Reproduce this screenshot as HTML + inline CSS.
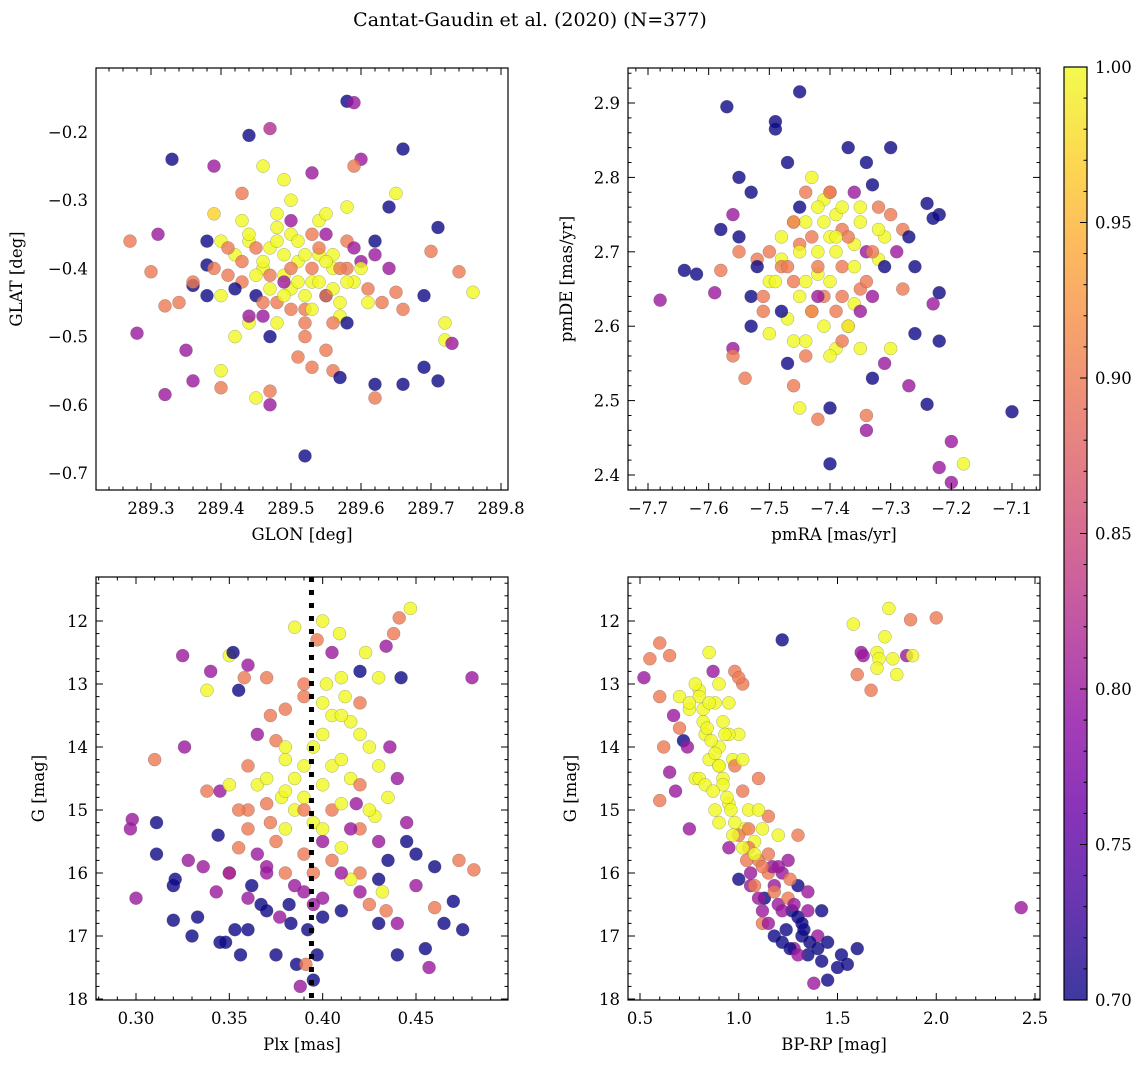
<!DOCTYPE html>
<html><head><meta charset="utf-8"><style>
body{margin:0;background:#fff;}
svg{display:block;font-family:"DejaVu Serif","Liberation Serif",serif;}
</style></head><body>
<svg id="fig" width="1148" height="1067" viewBox="0 0 1148 1067" xmlns="http://www.w3.org/2000/svg">
<text x="530" y="26" font-size="19" text-anchor="middle">Cantat-Gaudin et al. (2020) (N=377)</text>
</svg>
<script>
// ---- data ----
const tlGlon=[289.27,289.28,289.33,289.31,289.30,289.32,289.32,289.36,289.34,289.36,289.38,289.39,289.39,289.40,289.40,289.44,289.47,289.46,289.47,289.45,289.47,289.52,289.58,289.59,289.60,289.59,289.66,289.65,289.64,289.62,289.62,289.66,289.69,289.71,289.70,289.74,289.76,289.72,289.72,289.73,289.71,289.69,289.66,289.65,289.55,289.56,289.57,289.53,289.51,289.50,289.49,289.48,289.53,289.58,289.55,289.42,289.43,289.44,289.45,289.46,289.47,289.48,289.49,289.50,289.51,289.52,289.53,289.54,289.55,289.56,289.57,289.58,289.59,289.60,289.61,289.50,289.52,289.54,289.46,289.48,289.56,289.44,289.58,289.41,289.62,289.38,289.40,289.63,289.35,289.43];
const tlGlat=[-0.36,-0.495,-0.24,-0.35,-0.405,-0.455,-0.585,-0.565,-0.45,-0.425,-0.395,-0.25,-0.32,-0.55,-0.575,-0.205,-0.195,-0.25,-0.6,-0.59,-0.58,-0.675,-0.155,-0.157,-0.24,-0.25,-0.225,-0.29,-0.31,-0.59,-0.57,-0.57,-0.545,-0.565,-0.375,-0.405,-0.435,-0.48,-0.505,-0.51,-0.34,-0.44,-0.46,-0.435,-0.52,-0.55,-0.56,-0.545,-0.53,-0.3,-0.27,-0.32,-0.26,-0.31,-0.35,-0.38,-0.42,-0.36,-0.44,-0.40,-0.37,-0.45,-0.41,-0.43,-0.39,-0.46,-0.42,-0.38,-0.44,-0.40,-0.47,-0.36,-0.42,-0.39,-0.45,-0.35,-0.48,-0.33,-0.47,-0.34,-0.43,-0.48,-0.40,-0.41,-0.38,-0.44,-0.36,-0.45,-0.52,-0.29];
const tlProb=[.9,.8,.7,.8,.9,.9,.8,.8,.9,.7,.7,.8,.97,1,.9,.7,.82,1,.8,1,.9,.7,.7,.8,.8,.9,.7,1,.7,.9,.7,.7,.7,.7,.9,.9,1,1,1,.8,.7,.7,.9,.9,.9,.9,.7,.9,.9,1,1,1,.8,1,.8,1,.9,1,.7,1,1,.9,1,1,1,.9,1,1,.7,1,1,.9,1,.8,1,1,.9,1,.8,1,1,1,.9,.9,.8,.7,1,.9,.8,.9];
const tlGlon2=[289.44,289.45,289.46,289.47,289.48,289.49,289.50,289.51,289.52,289.53,289.54,289.55,289.56,289.57,289.58,289.49,289.50,289.51,289.52,289.53,289.54,289.55,289.47,289.46,289.45,289.43,289.42,289.41,289.40,289.39,289.60,289.61,289.59,289.57,289.56,289.48,289.47,289.52,289.44,289.43,289.50,289.55,289.62,289.64,289.38,289.36,289.42,289.58,289.53,289.49];
const tlGlat2=[-0.35,-0.37,-0.39,-0.41,-0.36,-0.38,-0.40,-0.36,-0.38,-0.40,-0.42,-0.44,-0.38,-0.40,-0.42,-0.44,-0.46,-0.42,-0.44,-0.46,-0.37,-0.39,-0.43,-0.45,-0.41,-0.39,-0.43,-0.37,-0.44,-0.40,-0.40,-0.43,-0.37,-0.45,-0.48,-0.48,-0.50,-0.50,-0.47,-0.33,-0.33,-0.32,-0.36,-0.40,-0.36,-0.42,-0.50,-0.48,-0.35,-0.42];
const tlProb2=[1,.9,1,.9,1,1,.9,1,1,.9,1,.9,1,.9,1,1,.9,1,1,1,.9,1,1,.9,1,.9,.7,.9,1,.9,1,.9,.8,1,.9,1,.7,.9,.8,1,.8,1,.7,.8,.7,.9,1,.7,.9,.8];
const trPmra=[-7.57,-7.45,-7.49,-7.49,-7.30,-7.68,-7.64,-7.62,-7.58,-7.59,-7.56,-7.56,-7.54,-7.10,-7.18,-7.20,-7.22,-7.20,-7.40,-7.34,-7.34,-7.42,-7.40,-7.24,-7.27,-7.22,-7.22,-7.22,-7.23,-7.24,-7.23,-7.26,-7.45,-7.46,-7.47,-7.50,-7.51,-7.53,-7.53,-7.53,-7.55,-7.56,-7.55,-7.47,-7.37,-7.34,-7.33,-7.31,-7.30,-7.33,-7.28,-7.28,-7.42,-7.40,-7.38,-7.44,-7.36,-7.46,-7.35,-7.48,-7.41,-7.39,-7.43,-7.37,-7.45,-7.32,-7.50,-7.40,-7.36,-7.44,-7.42,-7.38,-7.47,-7.34,-7.41,-7.39,-7.48,-7.35,-7.43,-7.31,-7.52,-7.46];
const trPmde=[2.895,2.915,2.875,2.865,2.84,2.635,2.675,2.67,2.675,2.645,2.57,2.56,2.53,2.485,2.415,2.445,2.41,2.39,2.415,2.46,2.48,2.475,2.49,2.495,2.52,2.58,2.645,2.75,2.745,2.765,2.63,2.59,2.49,2.52,2.55,2.59,2.62,2.60,2.64,2.78,2.72,2.75,2.80,2.82,2.84,2.82,2.79,2.55,2.57,2.53,2.65,2.73,2.70,2.72,2.68,2.74,2.71,2.66,2.76,2.69,2.64,2.75,2.62,2.60,2.71,2.69,2.66,2.78,2.63,2.58,2.67,2.73,2.61,2.70,2.77,2.57,2.68,2.65,2.80,2.72,2.69,2.74];
const trProb=[.7,.7,.7,.7,.7,.8,.7,.7,.9,.8,.8,.9,.9,.7,1,.8,.8,.8,.7,.8,.9,.9,.7,.7,.8,.7,.7,.7,.7,.7,.8,.7,1,.9,.7,1,.9,.7,.7,.7,.7,.8,.7,.7,.7,.7,.7,.8,1,.7,.9,.9,1,1,.9,1,1,.9,1,1,.9,1,1,.9,.9,1,1,.9,1,1,1,.9,1,.8,1,1,.9,.9,1,1,.9,1];
const trPmra2=[-7.45,-7.43,-7.41,-7.39,-7.37,-7.35,-7.33,-7.44,-7.42,-7.40,-7.38,-7.36,-7.34,-7.46,-7.48,-7.50,-7.47,-7.45,-7.43,-7.41,-7.39,-7.37,-7.35,-7.32,-7.30,-7.31,-7.29,-7.49,-7.51,-7.52,-7.44,-7.42,-7.40,-7.38,-7.36,-7.46,-7.44,-7.40,-7.38,-7.35,-7.48,-7.33,-7.26,-7.27,-7.55,-7.58,-7.32,-7.45,-7.42,-7.39];
const trPmde2=[2.70,2.72,2.74,2.70,2.72,2.74,2.70,2.66,2.68,2.66,2.64,2.68,2.66,2.74,2.72,2.70,2.68,2.64,2.62,2.60,2.62,2.60,2.62,2.73,2.75,2.68,2.70,2.66,2.64,2.68,2.78,2.76,2.78,2.76,2.78,2.58,2.56,2.56,2.58,2.57,2.62,2.64,2.68,2.72,2.70,2.73,2.76,2.76,2.64,2.72];
const trProb2=[1,.9,1,1,.9,1,.9,1,.9,1,.9,1,.9,.9,1,.9,.9,1,.9,1,.9,1,.8,1,.9,.7,.8,1,.9,.7,.9,1,.9,1,.8,1,.9,1,.9,1,.7,.8,.7,.7,.9,.7,.9,.7,.8,1];
const blPlx=[0.297,0.298,0.300,0.311,0.311,0.310,0.320,0.321,0.320,0.325,0.326,0.328,0.330,0.333,0.336,0.338,0.340,0.343,0.345,0.344,0.348,0.350,0.352,0.355,0.356,0.358,0.362,0.365,0.367,0.372,0.375,0.377,0.385,0.386,0.388,0.391,0.395,0.397,0.397,0.400,0.405,0.409,0.410,0.415,0.420,0.423,0.430,0.434,0.438,0.442,0.447,0.441,0.480,0.481,0.475,0.470,0.473,0.465,0.460,0.457,0.455,0.460,0.440,0.440,0.434,0.432,0.435,0.450,0.445,0.440,0.436,0.425,0.415,0.405,0.400,0.395,0.385,0.378,0.370,0.360,0.355,0.350,0.365,0.380,0.395,0.405,0.412,0.402,0.390,0.375,0.385,0.395,0.410,0.420,0.425,0.415,0.400,0.385,0.370,0.360,0.375,0.390,0.405,0.418,0.428,0.392,0.382,0.345,0.338,0.353];
const blG=[15.3,15.15,16.4,15.2,15.7,14.2,16.2,16.1,16.75,12.55,14.0,15.8,17.0,16.7,15.9,13.1,12.8,16.3,17.1,15.4,17.1,12.55,12.5,13.1,17.3,12.9,16.2,14.6,16.5,13.5,17.3,16.7,12.1,17.45,17.8,17.45,17.7,17.3,12.3,12.0,12.5,12.2,16.6,13.6,12.8,12.5,12.9,12.4,12.2,12.9,11.8,11.95,12.9,15.95,16.9,16.45,15.8,16.8,15.9,17.5,17.2,16.55,17.3,16.8,16.6,16.3,15.8,15.7,15.2,14.5,14.0,14.0,14.5,15.0,15.5,16.0,15.0,14.8,14.5,15.0,15.6,16.0,13.8,14.2,14.0,13.5,13.2,13.0,13.2,13.9,14.5,15.2,15.6,16.0,16.5,16.1,16.4,16.2,16.0,16.4,15.5,15.7,14.3,14.9,15.1,16.9,16.5,14.7,14.7,16.9];
const blProb=[.8,.8,.8,.7,.7,.9,.7,.7,.7,.8,.8,.8,.7,.7,.8,1,.8,.8,.7,.7,.7,1,.7,.7,.7,.9,.7,1,.7,.9,.7,.8,1,.7,.8,.9,.7,.7,.9,1,.8,1,.7,1,.7,1,1,.8,.9,.7,1,.9,.8,.9,.7,.7,.9,.7,.7,.8,.7,.9,.7,.8,.9,1,.7,.7,.8,.8,.8,1,1,.9,.8,.9,1,1,1,.9,.9,.9,.8,1,1,1,1,1,.9,.9,1,1,1,.9,.9,1,.8,.8,.8,.8,.9,.9,1,.8,1,.7,.7,.8,.9,.7];
const blPlx2=[0.38,0.39,0.40,0.41,0.42,0.40,0.41,0.42,0.43,0.37,0.38,0.39,0.40,0.41,0.42,0.43,0.36,0.37,0.38,0.39,0.40,0.41,0.42,0.43,0.37,0.36,0.35,0.38,0.39,0.37,0.36,0.41,0.40,0.42,0.38,0.39,0.36,0.35,0.425,0.435,0.415,0.405,0.395,0.383,0.372,0.365,0.355,0.43,0.45,0.445];
const blG2=[14.0,14.3,14.6,14.2,14.6,13.8,13.5,13.8,14.3,14.9,15.3,15.0,15.3,14.9,15.3,15.5,15.3,15.9,16.0,16.3,16.7,16.0,16.3,16.1,16.6,16.9,16.0,13.4,13.0,12.9,12.7,12.9,13.3,13.3,14.7,14.8,14.3,14.6,15.0,14.8,15.3,15.8,16.5,16.8,15.2,15.7,15.0,16.8,16.2,15.5];
const blProb2=[1,1,1,1,.9,1,1,1,1,.9,1,.9,1,1,.9,.8,.9,.8,.9,.8,.7,.8,.8,.7,.7,.7,.8,.9,.9,.9,.8,1,1,.9,1,1,.9,1,1,1,.8,.9,.8,.7,.9,.8,.9,.7,.8,.7];
const brColor=[0.52,0.55,0.60,0.65,0.60,0.62,0.60,0.65,0.67,0.70,0.72,0.75,0.78,0.80,0.82,0.85,0.87,0.90,0.90,0.92,0.95,0.98,1.02,1.00,1.02,1.03,1.05,1.08,1.10,1.12,1.15,1.20,1.22,1.24,1.28,1.30,1.32,1.35,1.40,1.42,1.45,1.50,1.60,1.55,1.38,1.22,1.00,0.85,0.88,0.95,1.10,1.15,1.30,1.18,1.25,1.12,1.30,1.42,1.06,1.00,0.95,1.10,0.92,0.80,0.90,1.20,1.25,1.35,0.95,0.75,0.83,0.97,1.05,1.13,1.27,1.33,1.17,0.88,1.58,1.60,1.62,1.63,1.67,1.70,1.71,1.70,1.74,1.76,1.78,1.80,1.85,1.87,2.00,1.88,2.43];
const brG=[12.9,12.6,12.35,12.55,13.2,14.0,14.85,14.4,13.5,13.2,13.9,15.3,14.5,13.1,13.6,12.5,12.8,13.0,14.0,14.5,13.3,12.8,13.0,13.8,14.7,15.3,15.0,15.5,15.8,15.3,16.0,16.5,16.0,16.9,17.2,16.7,17.0,17.3,17.0,17.4,17.7,17.5,17.2,17.45,17.75,12.3,12.9,14.2,15.0,14.9,14.5,15.1,15.4,16.2,16.4,16.8,16.2,16.6,16.2,16.1,15.6,15.0,13.6,14.5,14.3,15.4,15.8,16.3,13.8,13.4,13.8,14.2,15.6,16.4,16.6,16.9,15.9,13.3,12.05,12.85,12.5,12.55,13.1,12.5,12.6,12.75,12.25,11.8,12.6,12.85,12.55,11.98,11.95,12.55,16.55];
const brProb=[.8,.9,.9,.9,.9,.9,.9,.8,.8,1,.7,.8,1,1,1,1,.8,1,1,1,1,.9,.9,1,.9,1,1,1,.9,1,.9,.8,.8,.7,.8,.7,.7,.7,.8,.7,.7,.7,.7,.7,.8,.7,.9,1,1,1,.9,.9,.9,.8,.9,.9,.7,.7,.8,.7,.8,1,1,1,1,1,.8,.8,1,1,1,1,.9,.7,.7,.7,.8,1,1,.9,.8,.8,.9,1,1,1,1,1,1,1,.8,.9,.9,1,.8];
const brColor2=[0.80,0.82,0.84,0.86,0.88,0.90,0.92,0.94,0.96,0.98,1.00,1.02,1.04,1.06,1.08,1.10,1.12,1.15,1.18,1.22,1.26,1.30,0.75,0.78,0.83,0.87,0.90,0.97,1.05,1.08,1.12,1.18,1.22,1.28,1.32,1.36,1.40,0.70,0.74,0.68,0.85,0.93,0.98,1.02,1.15,1.20,1.26,1.35,1.45,1.52];
const brG2=[13.2,13.4,13.7,13.9,14.1,14.3,14.6,14.8,15.0,15.2,15.4,15.6,15.8,16.0,16.2,16.4,16.6,16.8,17.0,17.1,17.2,17.3,13.3,13.0,14.6,14.7,15.2,15.4,15.3,15.7,15.9,16.3,16.6,16.5,16.8,17.1,17.2,13.7,14.0,14.7,13.3,13.8,14.3,14.2,15.7,15.9,16.1,16.6,17.1,17.3];
const brProb2=[1,1,1,1,1,1,1,1,1,1,.9,1,.9,.8,.9,.8,.8,.8,.7,.7,.7,.8,1,1,1,1,1,1,.9,1,.9,.9,.8,.8,.7,.7,.7,.9,.8,.8,1,1,.9,1,.9,.8,.9,.8,.7,.7];
const cbTicks=[0.70,0.75,0.80,0.85,0.90,0.95,1.00];
const plxCut=[0.394];

const NS='http://www.w3.org/2000/svg';
const svg=document.getElementById('fig');
function mk(t,a,p){const e=document.createElementNS(NS,t);for(const k in a)e.setAttribute(k,a[k]);(p||svg).appendChild(e);return e;}
const stops=[[13,8,135],[65,4,157],[106,0,168],[143,13,164],[177,42,144],[204,71,120],[225,100,98],[242,132,75],[252,166,54],[252,206,37],[240,249,33]];
function plasma(t){t=Math.max(0,Math.min(1,t))*10;const i=Math.min(9,Math.floor(t)),f=t-i;const a=stops[i],b=stops[i+1];return 'rgb('+a.map((v,k)=>Math.round(v+(b[k]-v)*f)).join(',')+')';}
function pcol(p){return plasma((p-0.7)/0.3);}
function fmt(v,d){return (v<0?'\u2212':'')+Math.abs(v).toFixed(d);}

function panel(o){
  const g=mk('g',{});
  
  
  const X=v=>o.x0+(v-o.xa)*(o.x1-o.x0)/(o.xb-o.xa);
  const Y=v=>o.y0+(v-o.ya)*(o.y1-o.y0)/(o.yb-o.ya);
  const L=o.L,R=o.R,T=o.T,B=o.B;
  const cp=mk('clipPath',{id:'c'+o.name},g);mk('rect',{x:L,y:T,width:R-L,height:B-T},cp);
  const pg=mk('g',{'clip-path':'url(#c'+o.name+')'},g);
  o.xs.forEach((xv,i)=>{
    const c=mk('circle',{cx:X(xv),cy:Y(o.ys[i]),r:6.5,fill:pcol(o.ps[i]),'fill-opacity':0.8,stroke:'#555','stroke-width':0.4,'stroke-opacity':0.6},pg);
    
    
  });
  if(o.vline){o.vline.forEach(v=>{const l=mk('line',{x1:X(v),x2:X(v),y1:T,y2:B,stroke:'#000','stroke-width':5,'stroke-dasharray':'5,8'},pg);
    
    });}
  const fr=mk('rect',{x:L,y:T,width:R-L,height:B-T,fill:'none',stroke:'#000','stroke-width':1.2},g);
  
  
  const xstep=o.xt[1]-o.xt[0],ystep=o.yt[1]-o.yt[0];
  for(let v=o.xt[0]-xstep;v<=o.xt[o.xt.length-1]+xstep+1e-9;v+=xstep/o.xm){
    const px=X(v);if(px<L+0.5||px>R-0.5)continue;
    const major=o.xt.some(t=>Math.abs(t-v)<xstep*1e-3);const len=major?7:3.5;
    mk('line',{x1:px,x2:px,y1:B,y2:B-len,stroke:'#000','stroke-width':1},g);
    mk('line',{x1:px,x2:px,y1:T,y2:T+len,stroke:'#000','stroke-width':1},g);
  }
  o.xt.forEach(v=>{const t=mk('text',{x:X(v),y:B+24,'font-size':16.5,'text-anchor':'middle'},g);t.textContent=fmt(v,o.xd);
    
    });
  for(let v=o.yt[0]-ystep;v<=o.yt[o.yt.length-1]+ystep+1e-9;v+=ystep/o.ym){
    const py=Y(v);if(py<T+0.5||py>B-0.5)continue;
    const major=o.yt.some(t=>Math.abs(t-v)<ystep*1e-3);const len=major?7:3.5;
    mk('line',{x1:L,x2:L+len,y1:py,y2:py,stroke:'#000','stroke-width':1},g);
    mk('line',{x1:R,x2:R-len,y1:py,y2:py,stroke:'#000','stroke-width':1},g);
  }
  o.yt.forEach(v=>{const t=mk('text',{x:L-8,y:Y(v)+6,'font-size':16.5,'text-anchor':'end'},g);t.textContent=fmt(v,o.yd);
    
    });
  const xl=mk('text',{x:(L+R)/2,y:B+50,'font-size':16.5,'text-anchor':'middle'},g);xl.textContent=o.xlab;
  
  
  const yx=o.ylx;const yl=mk('text',{x:yx,y:(T+B)/2,'font-size':16.5,'text-anchor':'middle',transform:'rotate(-90 '+yx+' '+(T+B)/2+')'},g);yl.textContent=o.ylab;
  
  
}
panel({name:'glon-glat-panel',L:96,R:508,T:68,B:490,xa:289.3,x0:151,xb:289.8,x1:501,ya:-0.2,y0:132,yb:-0.7,y1:473,
  xt:[289.3,289.4,289.5,289.6,289.7,289.8],yt:[-0.2,-0.3,-0.4,-0.5,-0.6,-0.7],xm:5,ym:5,xd:1,yd:1,
  xs:tlGlon.concat(tlGlon2),ys:tlGlat.concat(tlGlat2),ps:tlProb.concat(tlProb2),xlab:'GLON [deg]',ylab:'GLAT [deg]',ylx:22});
panel({name:'pm-panel',L:628,R:1040,T:68,B:490,xa:-7.7,x0:648,xb:-7.1,x1:1012,ya:2.9,y0:103,yb:2.4,y1:475,
  xt:[-7.7,-7.6,-7.5,-7.4,-7.3,-7.2,-7.1],yt:[2.4,2.5,2.6,2.7,2.8,2.9],xm:5,ym:5,xd:1,yd:1,
  xs:trPmra.concat(trPmra2),ys:trPmde.concat(trPmde2),ps:trProb.concat(trProb2),xlab:'pmRA [mas/yr]',ylab:'pmDE [mas/yr]',ylx:572});
panel({name:'plx-g-panel',L:96,R:508,T:577,B:1000,xa:0.30,x0:136,xb:0.45,x1:416,ya:12,y0:621,yb:18,y1:999,
  xt:[0.30,0.35,0.40,0.45],yt:[12,13,14,15,16,17,18],xm:5,ym:5,xd:2,yd:0,
  xs:blPlx.concat(blPlx2),ys:blG.concat(blG2),ps:blProb.concat(blProb2),vline:plxCut,xlab:'Plx [mas]',ylab:'G [mag]',ylx:44});
panel({name:'cmd-panel',L:628,R:1040,T:577,B:1000,xa:0.5,x0:640,xb:2.5,x1:1035,ya:12,y0:621,yb:18,y1:999,
  xt:[0.5,1.0,1.5,2.0,2.5],yt:[12,13,14,15,16,17,18],xm:5,ym:5,xd:1,yd:0,
  xs:brColor.concat(brColor2),ys:brG.concat(brG2),ps:brProb.concat(brProb2),xlab:'BP-RP [mag]',ylab:'G [mag]',ylx:576});

const cg=mk('g',{});


const defs=mk('defs',{},cg);const lg=mk('linearGradient',{id:'cbg',x1:0,y1:1,x2:0,y2:0},defs);
for(let i=0;i<=20;i++){mk('stop',{offset:i/20,'stop-color':plasma(i/20),'stop-opacity':0.8},lg);}
const cT=67,cB=1000,cL=1064,cR=1087;
mk('rect',{x:cL,y:cT,width:cR-cL,height:cB-cT,fill:'url(#cbg)',stroke:'#000','stroke-width':1.2},cg);
const CY=v=>cB+(v-0.70)*(cT-cB)/0.30;
for(let k=0;k<=30;k++){const v=0.70+k*0.01;const major=k%5===0;if(k===0||k===30)continue;
  mk('line',{x1:cR,x2:cR-(major?7:3.5),y1:CY(v),y2:CY(v),stroke:'#000','stroke-width':1},cg);}
cbTicks.forEach(v=>{const t=mk('text',{x:cR+8,y:CY(v)+6,'font-size':16.5},cg);t.textContent=v.toFixed(2);
  
  });
</script>
</body></html>
